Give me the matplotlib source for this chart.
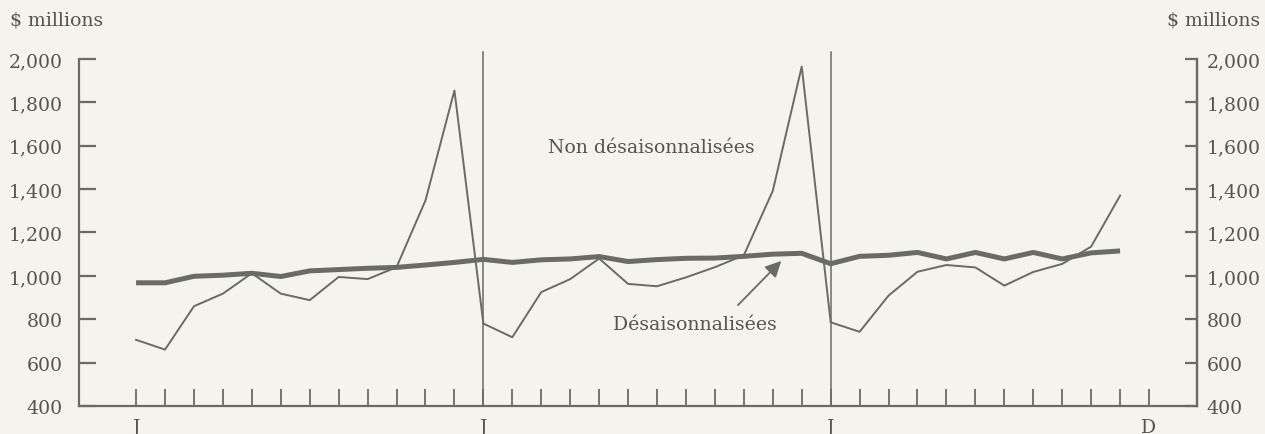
import matplotlib.pyplot as plt

# monthly retail values, $ millions (3 years, Jan to Nov of last year)
months = list(range(35))
non_adjusted = [705, 660, 860, 918, 1012, 918, 888, 995, 985, 1040, 1348, 1855,
                780, 717, 925, 985, 1080, 963, 952, 993, 1040, 1095, 1392, 1965,
                786, 742, 909, 1019, 1050, 1039, 955, 1018, 1055, 1135, 1370]
adjusted = [968, 968, 998, 1003, 1012, 997, 1023, 1029, 1035, 1039, 1050, 1062,
            1076, 1062, 1074, 1078, 1089, 1066, 1075, 1081, 1082, 1090, 1100, 1104,
            1056, 1090, 1095, 1108, 1078, 1108, 1078, 1108, 1078, 1106, 1115]
month_ticks = list(range(36))
year_starts = [12, 24]
x_labels = {0: 'J', 12: 'J', 24: 'J', 35: 'D'}
y_ticks = [400, 600, 800, 1000, 1200, 1400, 1600, 1800, 2000]

bg = '#f4f3ee'
ink = '#6a6a66'
txt = '#55544f'
fs = 13.6
plt.rcParams['font.family'] = 'DejaVu Serif'

fig = plt.figure(figsize=(12.65, 4.35), dpi=100, facecolor=bg)
ax = fig.add_axes([0.0625, 0.0644, 0.8838, 0.7977])
ax.set_facecolor(bg)

ax.plot(months, non_adjusted, color=ink, linewidth=1.4)
ax.plot(months, adjusted, color=ink, linewidth=3.6, solid_capstyle='butt')

# vertical lines at each january
for m in year_starts:
    ax.plot([m, m], [400, 2030], color=ink, linewidth=1.1, clip_on=False)

ax.set_xlim(-1.97, 36.66)
ax.set_ylim(400, 2000)

ax.spines['top'].set_visible(False)
for s in ['left', 'right', 'bottom']:
    ax.spines[s].set_color(ink)
    ax.spines[s].set_linewidth(1.6)

ax.set_yticks(y_ticks)
ax.set_yticklabels(['{:,}'.format(v) for v in y_ticks])
ax.tick_params(axis='y', direction='in', length=12.5, width=1.6, color=ink,
               pad=12, labelsize=fs, labelcolor=txt)

ax.set_xticks(month_ticks)
ax.set_xticklabels([x_labels.get(m, '') for m in month_ticks])
ax.tick_params(axis='x', direction='in', length=12, width=1.3, color=ink,
               pad=9, labelsize=fs, labelcolor=txt)

ax2 = ax.twinx()
ax2.set_ylim(400, 2000)
ax2.set_yticks(y_ticks)
ax2.set_yticklabels(['{:,}'.format(v) for v in y_ticks])
ax2.tick_params(axis='y', direction='in', length=9, width=1.6, color=ink,
                pad=7, labelsize=fs, labelcolor=txt)
for s in ['top', 'left', 'bottom']:
    ax2.spines[s].set_visible(False)
ax2.spines['right'].set_color(ink)
ax2.spines['right'].set_linewidth(1.6)

ax.text(17.8, 1594, 'Non désaisonnalisées', ha='center', va='center',
        fontsize=fs, color=txt)
ax.text(19.3, 778, 'Désaisonnalisées', ha='center', va='center',
        fontsize=fs, color=txt)
ax.annotate('', xy=(22.36, 1078), xytext=(20.73, 856),
            arrowprops=dict(arrowstyle='-|>', color=ink, lw=1.3, mutation_scale=24))

fig.text(10 / 1265, 1 - 20 / 435, '$ millions', ha='left', va='center',
         fontsize=fs, color=txt)
fig.text(1260 / 1265, 1 - 20 / 435, '$ millions', ha='right', va='center',
         fontsize=fs, color=txt)

plt.savefig('out.png', dpi=100, facecolor=bg)
